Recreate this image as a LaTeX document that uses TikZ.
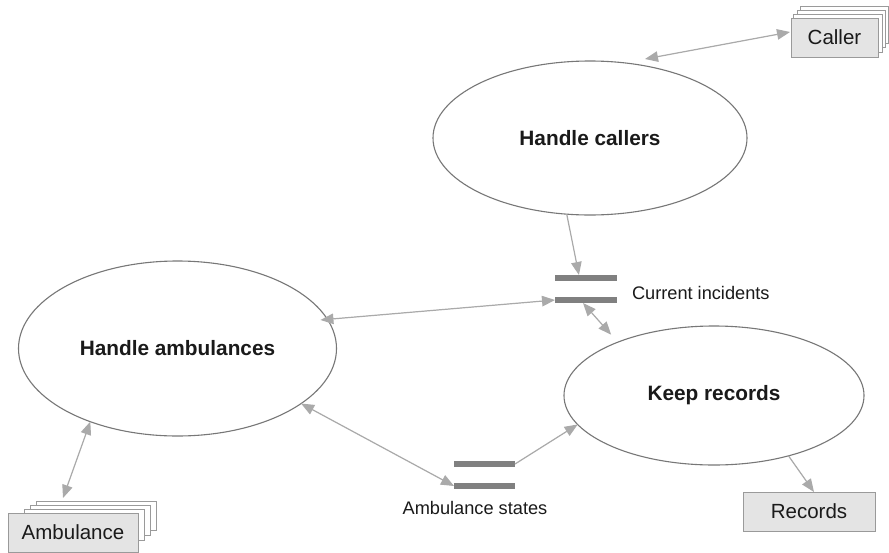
\documentclass[tikz,border=0pt]{standalone}
\usepackage{fontspec}
\setmainfont{Liberation Sans}
\usetikzlibrary{shapes.geometric,arrows.meta,calc}
\definecolor{elline}{HTML}{777777}
\definecolor{flowc}{HTML}{AAAAAA}
\definecolor{boxfill}{HTML}{E4E4E4}
\definecolor{boxline}{HTML}{9A9A9A}
\definecolor{barc}{HTML}{808080}
\definecolor{txt}{HTML}{1A1A1A}
\tikzset{
  proc/.style={ellipse, draw=elline, line width=1.1pt, fill=white, inner sep=0pt, outer sep=0pt,
    font=\fontsize{20.8}{24}\selectfont\bfseries, text=txt},
  ext/.style={rectangle, draw=boxline, line width=0.9pt, fill=boxfill, inner sep=0pt, outer sep=0pt,
    font=\fontsize{20.5}{24}\selectfont, text=txt},
  layer/.style={draw=boxline, line width=0.9pt, fill=white},
  storebar/.style={rectangle, fill=barc, draw=none, inner sep=0pt, outer sep=0pt, minimum height=6pt},
  lbl/.style={inner sep=0pt, outer sep=0pt, font=\fontsize{18.2}{22}\selectfont, text=txt},
  flow/.style={draw=flowc, line width=1.2pt, >={Triangle[length=13pt,width=10.5pt]}, fill=flowc},
}
\begin{document}
\begin{tikzpicture}[x=1pt,y=-1pt]
\useasboundingbox[fill=white] (0,0) rectangle (889,552);

% processes
\node[proc, minimum width=314pt, minimum height=154pt] (hc) at (590,138) {Handle callers};
\node[proc, minimum width=318pt, minimum height=175pt] (ha) at (177.5,348.5) {Handle ambulances};
\node[proc, minimum width=300pt, minimum height=139pt] (kr) at (714,395.5) {Keep records};

% external entities (stacked)
\foreach \l/\t/\r/\b in {800/6/888/43, 797/10/885/47, 793/14/882/52}
  \draw[layer] (\l,\t) rectangle (\r,\b);
\node[ext, minimum width=87pt, minimum height=39pt] (caller) at (834.5,37.5) {Caller};

\foreach \l/\t/\r/\b in {36/501/156/530, 30/505/150/535, 24/509/144/540}
  \draw[layer] (\l,\t) rectangle (\r,\b);
\node[ext, minimum width=130pt, minimum height=39pt] (amb) at (73,532.5) {Ambulance};

\node[ext, minimum width=132pt, minimum height=39pt] (rec) at (809,511.5) {Records};

% data stores
\node[storebar, minimum width=62pt] (citop) at (586,278) {};
\node[storebar, minimum width=62pt] (cibot) at (586,300) {};
\node[lbl, anchor=west] (cilbl) at (632,293) {Current incidents};

\node[storebar, minimum width=61pt] (astop) at (484.5,464) {};
\node[storebar, minimum width=61pt] (asbot) at (484.5,486) {};
\node[lbl] (aslbl) at (475,507.5) {Ambulance states};

% flows
\draw[flow, <->] ($(hc.north)+(55,-2)$) -- ($(caller.west)+(-1,-5.5)$);
\draw[flow, ->] (hc.253) -- (citop.157);
\draw[flow, <->, shorten <=-7pt] (ha.11) -- (cibot.west);
\draw[flow, <->, shorten >=10pt] ($(cibot.south)+(-3,0)$) -- (kr.151.6);
\draw[flow, <->] (ha.336) -- (asbot.west);
\draw[flow, ->] (astop.east) -- (kr.192);
\draw[flow, <->] (ha.220) -- ($(amb.north)+(-10,-15)$);
\draw[flow, ->] (kr.321) -- ($(rec.north)+(5,0)$);
\end{tikzpicture}
\end{document}
